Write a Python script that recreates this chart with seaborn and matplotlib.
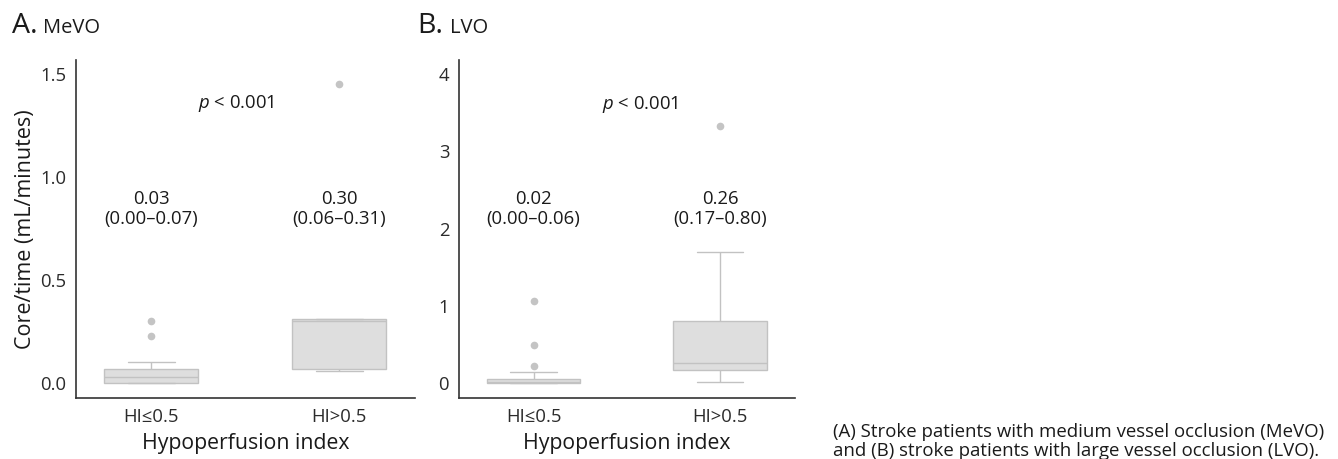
import pandas as pd
import matplotlib
matplotlib.use("Agg")
import matplotlib.pyplot as plt
import seaborn as sns

# group labels on the x axis
groups = ["HI≤0.5", "HI>0.5"]

# core/time values (mL/minutes)
mevo_low = [0, 0, 0, 0, 0.01, 0.02, 0.03, 0.04, 0.06, 0.07, 0.10, 0.23, 0.30]
mevo_high = [0.058, 0.068, 0.30, 0.31, 1.45]
lvo_low = [0, 0, 0, 0, 0, 0.01, 0.01, 0.02, 0.02, 0.03, 0.04, 0.05, 0.06,
           0.14, 0.22, 0.50, 1.07]
lvo_high = [0.01, 0.12, 0.17, 0.22, 0.26, 0.45, 0.80, 1.70, 3.33]

# median (IQR) labels
mevo_labels = ["0.03\n(0.00–0.07)", "0.30\n(0.06–0.31)"]
lvo_labels = ["0.02\n(0.00–0.06)", "0.26\n(0.17–0.80)"]

caption_lines = ["(A) Stroke patients with medium vessel occlusion (MeVO)",
                 "and (B) stroke patients with large vessel occlusion (LVO)."]

TEXT = "#1a1a1a"


def make_frame(low, high):
    return pd.DataFrame({
        "group": [groups[0]] * len(low) + [groups[1]] * len(high),
        "value": low + high,
    })


def draw_panel(ax, df, labels, label_y, p_xy, ylim, yticks, ticklabels):
    sns.boxplot(
        data=df, x="group", y="value", order=groups, ax=ax,
        color="#dedede", saturation=1, linecolor="#c2c2c2", linewidth=1,
        width=0.5, fliersize=4.5,
        flierprops=dict(marker="o", markerfacecolor="#c4c4c4",
                        markeredgecolor="#c4c4c4"),
    )
    for i, lab in enumerate(labels):
        ax.text(i, label_y, lab, ha="center", va="center", fontsize=13.3,
                linespacing=1.15, color=TEXT)
    ax.text(p_xy[0], p_xy[1], "$p$ < 0.001", ha="center", va="center",
            fontsize=13.3, color=TEXT)
    ax.set_xlim(-0.4, 1.4)
    ax.set_ylim(*ylim)
    ax.set_yticks(yticks)
    ax.set_yticklabels(ticklabels)
    ax.set_xlabel("Hypoperfusion index", fontsize=15.3, color=TEXT, labelpad=5)
    ax.tick_params(axis="both", labelsize=13.3, colors="#333333", length=4,
                   width=1, labelcolor="#2b2b2b", pad=3)
    for side in ["top", "right"]:
        ax.spines[side].set_visible(False)
    for side in ["left", "bottom"]:
        ax.spines[side].set_color("#333333")
        ax.spines[side].set_linewidth(1.2)


def main():
    sns.set_style("white")
    plt.rcParams["font.family"] = ["Open Sans", "DejaVu Sans"]
    plt.rcParams["mathtext.fontset"] = "custom"
    plt.rcParams["mathtext.rm"] = "Open Sans"
    plt.rcParams["mathtext.it"] = "Open Sans:italic"

    fig = plt.figure(figsize=(13.38, 4.59), dpi=100)
    ax_a = fig.add_axes([0.0568, 0.133, 0.253, 0.736])
    ax_b = fig.add_axes([0.343, 0.133, 0.251, 0.736])

    draw_panel(ax_a, make_frame(mevo_low, mevo_high), mevo_labels, 0.845,
               (0.45, 1.355), (-0.073, 1.568), [0, 0.5, 1.0, 1.5],
               ["0.0", "0.5", "1.0", "1.5"])
    ax_a.set_ylabel("Core/time (mL/minutes)", fontsize=15.5, color=TEXT,
                    labelpad=3)

    draw_panel(ax_b, make_frame(lvo_low, lvo_high), lvo_labels, 2.25,
               (0.57, 3.61), (-0.19, 4.18), [0, 1, 2, 3, 4],
               ["0", "1", "2", "3", "4"])
    ax_b.set_ylabel("")

    base = 1 - 33 / 459
    fig.text(0.009, base, "A.", fontsize=20.5, color=TEXT, va="baseline")
    fig.text(0.032, base, "MeVO", fontsize=14.5, color=TEXT, va="baseline")
    fig.text(0.312, base, "B.", fontsize=20.5, color=TEXT, va="baseline")
    fig.text(0.336, base, "LVO", fontsize=14.5, color=TEXT, va="baseline")

    fig.text(0.6226, 1 - 437 / 459, caption_lines[0], fontsize=13.4,
             color=TEXT, va="baseline", ha="left")
    fig.text(0.6226, 1 - 456 / 459, caption_lines[1], fontsize=13.4,
             color=TEXT, va="baseline", ha="left")

    fig.savefig("out.png", dpi=100, facecolor="white")


if __name__ == "__main__":
    main()
